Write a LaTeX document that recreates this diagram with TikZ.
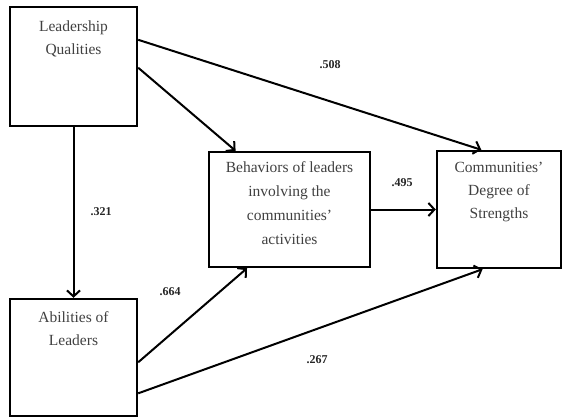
\documentclass[tikz,border=0pt]{standalone}
\usepackage{fontspec}
\setmainfont{Liberation Serif}
\usetikzlibrary{arrows.meta,positioning,calc}

\tikzset{
  box/.style={draw, line width=2.4pt, inner sep=0pt},
  boxtext/.style={align=center, inner sep=0pt, text=black!75, font=\fontsize{15.5}{23}\selectfont},
  weight/.style={inner sep=1pt, text=black!85, font=\fontsize{12}{14}\selectfont\bfseries},
  link/.style={draw, line width=2pt, -{Straight Barb[length=6pt,width=13pt,line width=2pt]}},
}

\begin{document}
\begin{tikzpicture}[x=1pt, y=-1pt]
    \useasboundingbox (0,0) rectangle (562,418);

    % Boxes
    \node[box, minimum width=127pt, minimum height=119pt] (lead) at (73.5,66.5) {};
    \node[box, minimum width=127pt, minimum height=117pt] (abil) at (73.5,357.5) {};
    \node[box, minimum width=161pt, minimum height=115pt] (behav) at (289.5,209.5) {};
    \node[box, minimum width=124pt, minimum height=117pt] (comm) at (499,209.5) {};

    % Box texts (top of each box)
    \node[boxtext, below=15pt of lead.north] (leadtxt) {Leadership\\Qualities};
    \node[boxtext, below=14pt of abil.north] (abiltxt) {Abilities of\\Leaders};
    \node[boxtext, below=11pt of behav.north, font=\fontsize{15.5}{24}\selectfont] (behavtxt) {Behaviors of leaders\\involving the\\communities'\\activities};
    \node[boxtext, below=12pt of comm.north] (commtxt) {Communities'\\Degree of\\Strengths};

    % Paths
    \draw[link] ($(lead.north east)!0.28!(lead.south east)$) -- ($(comm.north west)!0.36!(comm.north east)$);
    \draw[link] ($(lead.north east)!0.51!(lead.south east)$) -- ($(behav.north west)!0.17!(behav.north east)$);
    \draw[link] (lead.south) -- (abil.north);
    \draw[link] ($(abil.north east)!0.54!(abil.south east)$) -- ($(behav.south west)!0.24!(behav.south east)$);
    \draw[link] ($(abil.north east)!0.80!(abil.south east)$) -- ($(comm.south west)!0.37!(comm.south east)$);
    \draw[link] (behav.east) -- (comm.west);

    % Path coefficients
    \node[weight] (w508) at (330,65) {.508};
    \node[weight] (w321) at (101,212) {.321};
    \node[weight] (w664) at (170,292) {.664};
    \node[weight] (w495) at (402,183) {.495};
    \node[weight] (w267) at (317,360) {.267};
\end{tikzpicture}
\end{document}
